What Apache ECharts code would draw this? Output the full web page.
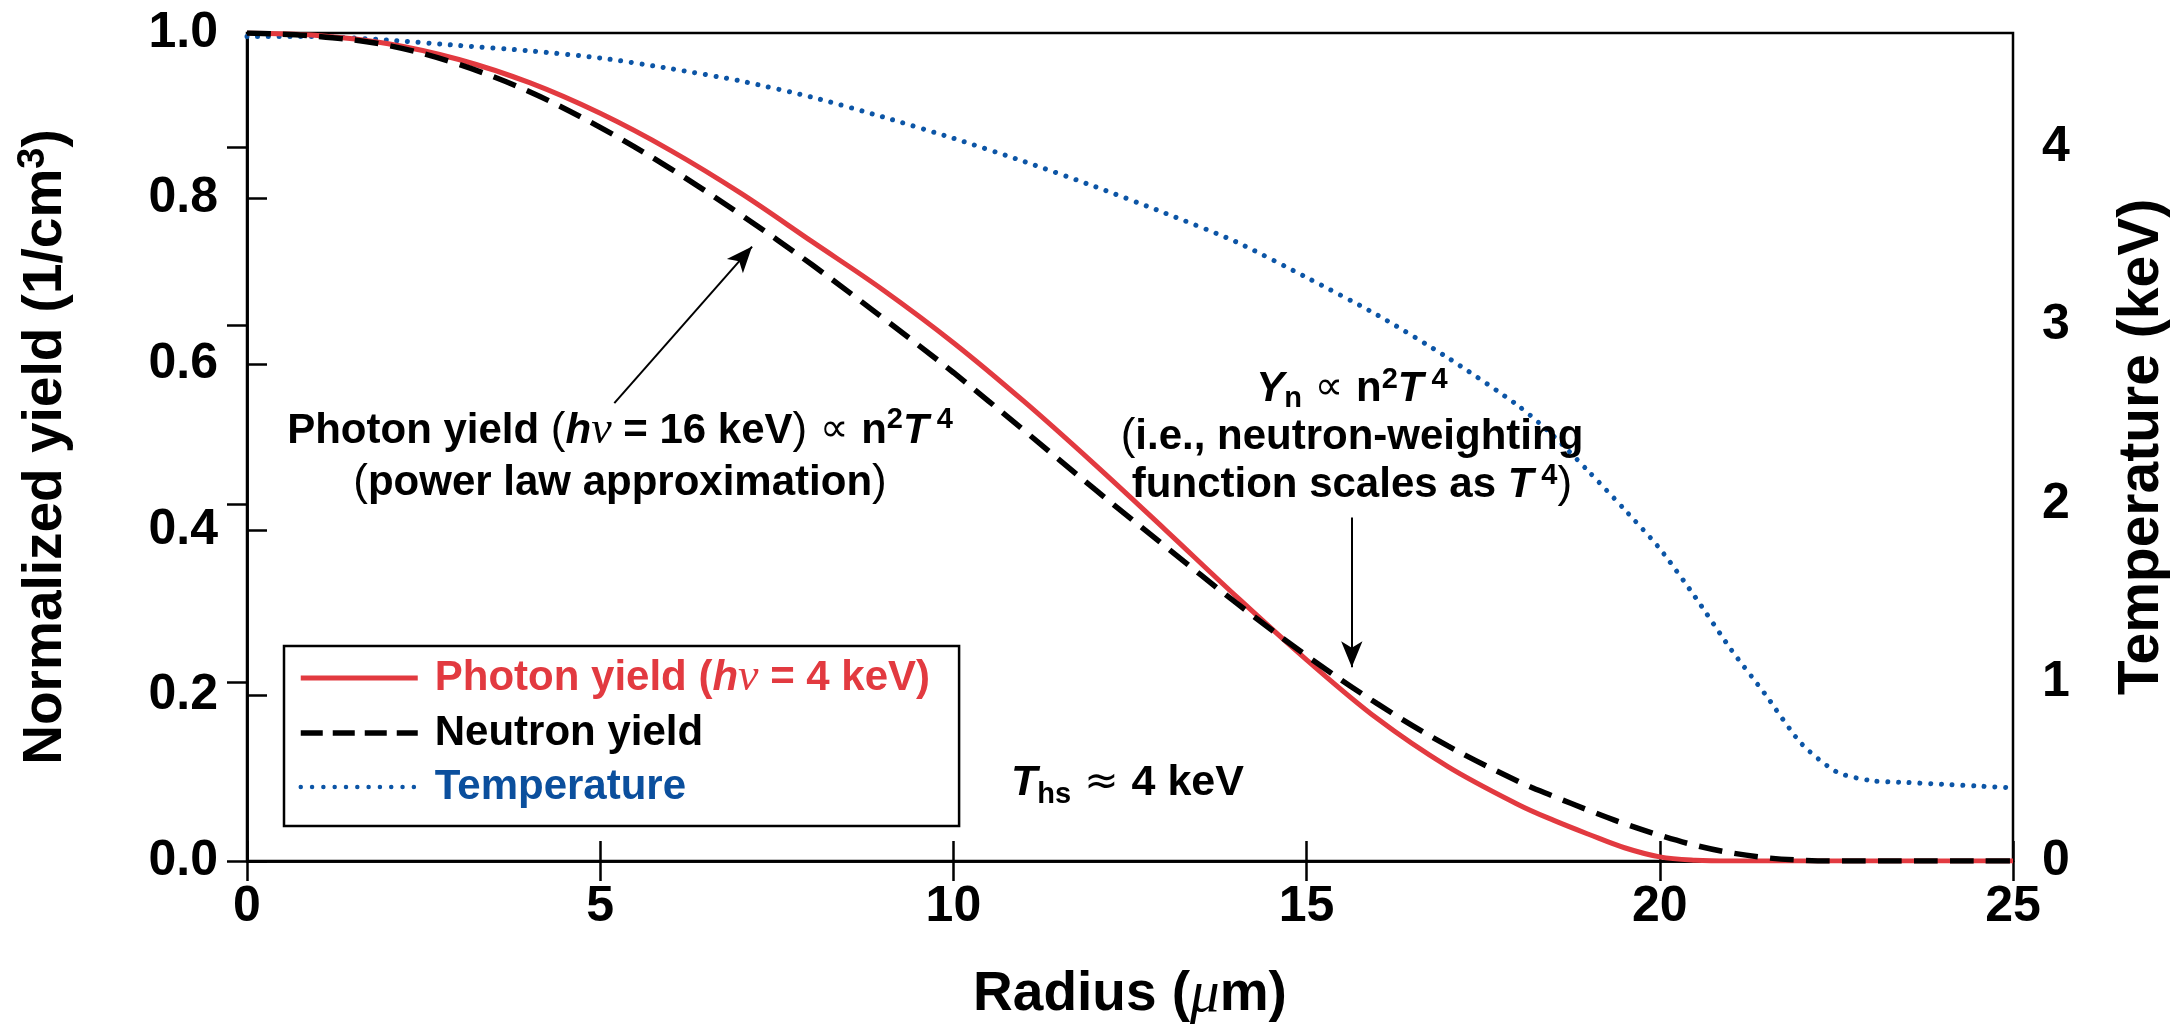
<!DOCTYPE html>
<html>
<head>
<meta charset="utf-8">
<script src="https://cdn.jsdelivr.net/npm/echarts@6/dist/echarts.min.js"></script>
<style>
  html, body { margin: 0; padding: 0; background: #fff; }
  #chart { width: 2180px; height: 1028px; }
</style>
</head>
<body>
<div id="chart"></div>
<script>
// Radial profiles of the hot spot (radius in micrometres)
const radius = [0, 1, 2, 3, 4, 5, 6, 7, 8, 9, 10, 11, 12, 13, 14, 15, 16, 17, 18,
  18.5, 19, 19.5, 20, 20.5, 21, 21.5, 22, 22.5, 23, 23.5, 24, 24.5, 25];

// Normalized photon yield at hv = 4 keV
const photonYield = [1.000, 0.997, 0.987, 0.968, 0.940, 0.903, 0.858, 0.806, 0.748, 0.690,
  0.626, 0.555, 0.479, 0.400, 0.320, 0.243, 0.172, 0.114, 0.068,
  0.049, 0.032, 0.016, 0.005, 0.001, 0, 0, 0, 0, 0, 0, 0, 0, 0];

// Normalized neutron yield
const neutronYield = [1.000, 0.996, 0.985, 0.962, 0.929, 0.886, 0.836, 0.780, 0.720, 0.656,
  0.590, 0.520, 0.449, 0.380, 0.312, 0.248, 0.190, 0.139, 0.096,
  0.078, 0.061, 0.045, 0.031, 0.019, 0.010, 0.004, 0.001, 0, 0, 0, 0, 0, 0];

// Electron temperature (keV)
const temperature = [4.62, 4.62, 4.60, 4.57, 4.54, 4.50, 4.44, 4.37, 4.28, 4.17,
  4.05, 3.92, 3.78, 3.63, 3.47, 3.27, 3.06, 2.82, 2.55,
  2.38, 2.18, 1.97, 1.75, 1.48, 1.19, 0.93, 0.66, 0.50, 0.45, 0.44, 0.43, 0.42, 0.41];

// Axis ranges and tick steps
const radiusRange = [0, 25, 5];
const yieldRange = [0, 1, 0.2];
const tempRange = [0, 4.64, 1];

// Callout arrows, given in data coordinates [radius, yield]
const photonArrow = [[5.20, 0.553], [7.15, 0.742]];
const neutronArrow = [[15.64, 0.415], [15.64, 0.234]];

const seriesNames = ['Photon yield (hν = 4 keV)', 'Neutron yield', 'Temperature'];

const FONT = "'Liberation Sans', Arial, Helvetica, 'DejaVu Sans', sans-serif";
const SERIF = "'Liberation Serif', 'DejaVu Serif', serif";
const SYM = "'DejaVu Sans', 'Liberation Sans', sans-serif";
const RED = '#e23a40';
const BLUE = '#0c55a6';
const BLUE_TEXT = '#0b4f9d';

const NEUTRON_DASH = [24, 12];
const TEMP_DOTS = [0.01, 10.7];

const pairs = (ys) => radius.map((r, i) => [r, ys[i]]);

// Rich text styles shared by the annotations
function annRich(size, lh, color) {
  return {
    b:   { fontFamily: FONT, fontWeight: 'bold', fontSize: size, lineHeight: lh, color: color },
    bi:  { fontFamily: FONT, fontWeight: 'bold', fontStyle: 'italic', fontSize: size, lineHeight: lh, color: color },
    nu:  { fontFamily: SERIF, fontStyle: 'italic', fontWeight: 'normal', fontSize: size + 4, lineHeight: lh, color: color },
    sym: { fontFamily: SYM, fontWeight: 'normal', fontSize: size - 2, lineHeight: lh, color: color },
    sup: { fontFamily: FONT, fontWeight: 'bold', fontSize: Math.round(size * 0.68), lineHeight: Math.round(size * 0.7), verticalAlign: 'top', color: color },
    sub: { fontFamily: FONT, fontWeight: 'bold', fontSize: Math.round(size * 0.68), lineHeight: Math.round(size * 0.42), verticalAlign: 'bottom', color: color },
    lp:  { fontFamily: FONT, fontWeight: 'normal', fontSize: size + 2, lineHeight: lh, color: color }
  };
}

const axisLineStyle = { show: true, lineStyle: { color: '#000', width: 2.5 } };
const axisTickStyle = { show: true, inside: true, length: 20, lineStyle: { color: '#000', width: 2.5 } };
const tickLabelStyle = { color: '#000', fontFamily: FONT, fontWeight: 'bold', fontSize: 50, lineHeight: 50 };
const TITLE_SIZE = 55;

const chart = echarts.init(document.getElementById('chart'), null, { renderer: 'canvas' });

const option = {
  animation: false,
  backgroundColor: '#fff',
  tooltip: { show: false },
  grid: {
    left: 247, top: 33, width: 1766, height: 828,
    show: true, borderColor: '#000', borderWidth: 2.5, backgroundColor: 'transparent',
    containLabel: false, outerBoundsMode: 'none'
  },
  xAxis: [
    {
      type: 'value', position: 'bottom',
      min: radiusRange[0], max: radiusRange[1], interval: radiusRange[2],
      axisLine: axisLineStyle, axisTick: axisTickStyle, splitLine: { show: false },
      axisLabel: Object.assign({ margin: 21 }, tickLabelStyle),
      name: '{b|Radius (}{mu|μ}{b|m)}',
      nameLocation: 'middle', nameGap: 104,
      nameTextStyle: {
        rich: {
          b: { fontFamily: FONT, fontWeight: 'bold', fontSize: TITLE_SIZE, lineHeight: 60, color: '#000' },
          mu: { fontFamily: SERIF, fontStyle: 'italic', fontWeight: 'normal', fontSize: TITLE_SIZE + 4, lineHeight: 60, color: '#000' }
        }
      }
    },
    {
      type: 'value', position: 'top',
      min: radiusRange[0], max: radiusRange[1], interval: radiusRange[2],
      axisLine: axisLineStyle, axisTick: axisTickStyle, splitLine: { show: false },
      axisLabel: { show: false }
    }
  ],
  yAxis: [
    {
      type: 'value', position: 'left',
      min: yieldRange[0], max: yieldRange[1], interval: yieldRange[2],
      axisLine: axisLineStyle, axisTick: axisTickStyle, splitLine: { show: false },
      axisLabel: Object.assign({ margin: 29, formatter: (v) => v.toFixed(1) }, tickLabelStyle),
      name: '{b|Normalized yield (1/cm}{sup|3}{b|)}',
      nameLocation: 'middle', nameGap: 170,
      nameTextStyle: {
        rich: {
          b: { fontFamily: FONT, fontWeight: 'bold', fontSize: TITLE_SIZE, lineHeight: 62, color: '#000' },
          sup: { fontFamily: FONT, fontWeight: 'bold', fontSize: 38, lineHeight: 38, verticalAlign: 'top', color: '#000' }
        }
      }
    },
    {
      type: 'value', position: 'right',
      min: tempRange[0], max: tempRange[1], interval: tempRange[2],
      axisLine: axisLineStyle, axisTick: axisTickStyle, splitLine: { show: false },
      axisLabel: Object.assign({ margin: 29, showMaxLabel: false, formatter: (v) => String(Math.round(v)) }, tickLabelStyle),
      name: 'Temperature (keV)',
      nameLocation: 'middle', nameGap: 98,
      nameTextStyle: { fontFamily: FONT, fontWeight: 'bold', fontSize: TITLE_SIZE + 2, lineHeight: 62, color: '#000' }
    }
  ],
  legend: {
    orient: 'vertical', left: 284, top: 646,
    padding: [9, 29, 17, 14], itemGap: 10,
    itemWidth: 117, itemHeight: 14,
    borderColor: '#000', borderWidth: 2.5, borderRadius: 0, backgroundColor: '#fff',
    selectedMode: false,
    itemStyle: { color: 'rgba(0,0,0,0)', borderWidth: 0 },
    textStyle: {
      fontFamily: FONT, fontWeight: 'bold', fontSize: 42, lineHeight: 44, color: '#000',
      rich: {
        gap: { width: 12 },
        r:  { fontFamily: FONT, fontWeight: 'bold', fontSize: 42, lineHeight: 44, color: RED },
        ri: { fontFamily: FONT, fontWeight: 'bold', fontStyle: 'italic', fontSize: 42, lineHeight: 44, color: RED },
        rn: { fontFamily: SERIF, fontStyle: 'italic', fontWeight: 'normal', fontSize: 46, lineHeight: 44, color: RED },
        k:  { fontFamily: FONT, fontWeight: 'bold', fontSize: 42, lineHeight: 44, color: '#000' },
        bl: { fontFamily: FONT, fontWeight: 'bold', fontSize: 42, lineHeight: 44, color: BLUE_TEXT }
      }
    },
    data: [
      { name: seriesNames[0], lineStyle: { width: 5, color: RED, type: 'solid' } },
      { name: seriesNames[1], lineStyle: { width: 5.5, color: '#000', type: [22, 10] } },
      { name: seriesNames[2], lineStyle: { width: 4.5, color: BLUE, type: [0.01, 11.3], cap: 'round' } }
    ],
    formatter: function (name) {
      if (name === seriesNames[0]) return '{gap| }{r|Photon yield (}{ri|h}{rn|ν}{r| = 4 keV)}';
      if (name === seriesNames[1]) return '{gap| }{k|Neutron yield}';
      return '{gap| }{bl|Temperature}';
    }
  },
  graphic: [
    {
      type: 'text', x: 620, y: 457, z: 50,
      style: {
        text: '{b|Photon yield }{lp|(}{bi|h}{nu|ν}{b| = 16 keV}{lp|)}{sym| ∝ }{b|n}{sup|2}{bi|T}{sup| 4}\n{lp|(}{b|power law approximation}{lp|)}',
        rich: annRich(42, 52, '#000'),
        align: 'center', verticalAlign: 'middle'
      }
    },
    {
      type: 'text', x: 1352, y: 437, z: 50,
      style: {
        text: '{bi|Y}{sub|n}{sym| ∝ }{b|n}{sup|2}{bi|T}{sup| 4}\n{lp|(}{b|i.e., neutron-weighting}\n{b|function scales as }{bi|T}{sup| 4}{lp|)}',
        rich: annRich(42, 48, '#000'),
        align: 'center', verticalAlign: 'middle'
      }
    },
    {
      type: 'text', x: 1011, y: 783, z: 50,
      style: {
        text: '{bi|T}{sub|hs}{sym| ≈ }{b|4 keV}',
        rich: annRich(43, 52, '#000'),
        align: 'left', verticalAlign: 'middle'
      }
    }
  ],
  series: [
    {
      name: seriesNames[0], type: 'line', xAxisIndex: 0, yAxisIndex: 0,
      data: pairs(photonYield), smooth: 0.35, showSymbol: false, symbol: 'none',
      lineStyle: { color: RED, width: 5 }, itemStyle: { color: RED }, z: 3,
      silent: true
    },
    {
      name: seriesNames[1], type: 'line', xAxisIndex: 0, yAxisIndex: 0,
      data: pairs(neutronYield), smooth: 0.35, showSymbol: false, symbol: 'none',
      lineStyle: { color: '#000', width: 5.5, type: NEUTRON_DASH }, itemStyle: { color: '#000' }, z: 4,
      silent: true,
      markLine: {
        silent: true, symbol: ['none', 'arrow'], symbolSize: [16, 26], precision: 4,
        lineStyle: { color: '#000', width: 2, type: 'solid' },
        label: { show: false },
        emphasis: { disabled: true },
        data: [
          [{ coord: photonArrow[0] }, { coord: photonArrow[1] }],
          [{ coord: neutronArrow[0] }, { coord: neutronArrow[1] }]
        ]
      }
    },
    {
      name: seriesNames[2], type: 'line', xAxisIndex: 0, yAxisIndex: 1,
      data: pairs(temperature), smooth: 0.25, showSymbol: false, symbol: 'none',
      lineStyle: { color: BLUE, width: 5, type: TEMP_DOTS, cap: 'round' }, itemStyle: { color: BLUE }, z: 2,
      silent: true
    }
  ]
};

chart.setOption(option);
</script>
</body>
</html>
